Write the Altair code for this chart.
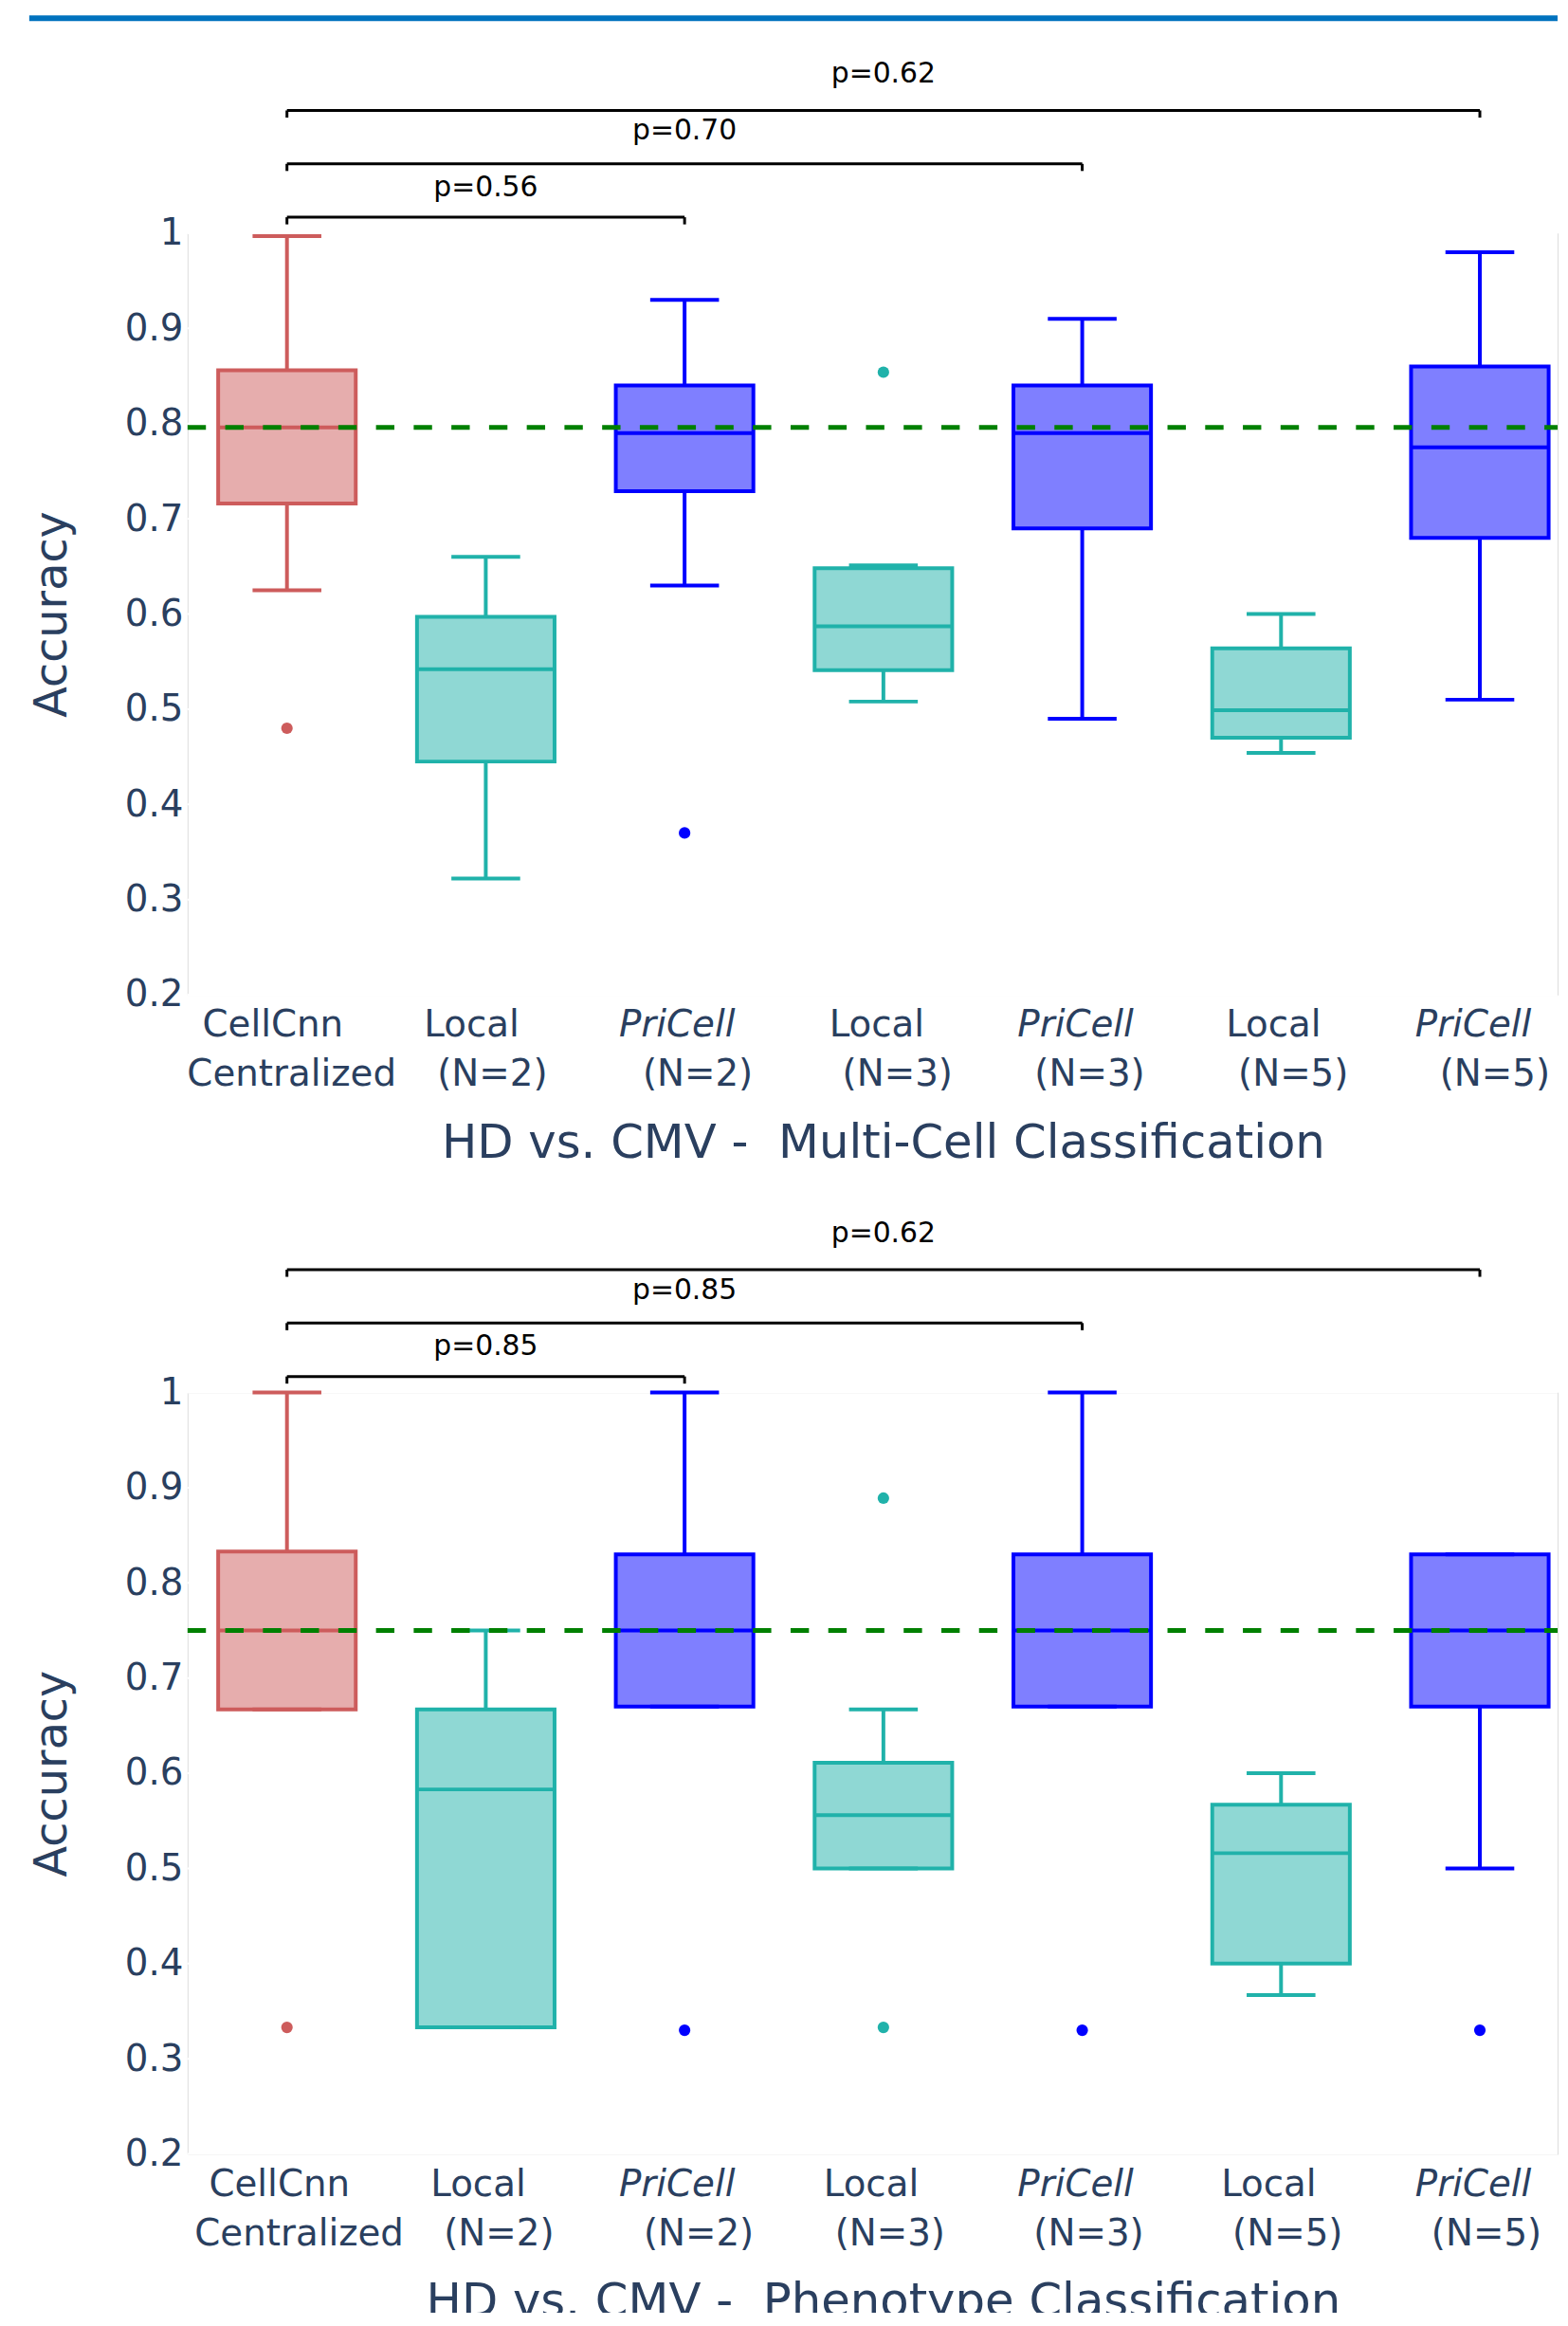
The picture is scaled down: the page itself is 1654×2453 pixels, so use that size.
import altair as alt
import pandas as pd

# ---------------- data ----------------
cat_ids = ["c0", "c1", "c2", "c3", "c4", "c5", "c6"]
groups = ["CellCnn", "Local", "PriCell", "Local", "PriCell", "Local", "PriCell"]
line1 = ["CellCnn", "Local", "PriCell", "Local", "PriCell", "Local", "PriCell"]
line2 = ["Centralized", "(N=2)", "(N=2)", "(N=3)", "(N=3)", "(N=5)", "(N=5)"]
NB = "\u00a0"
titles = ["HD vs. CMV - " + NB + "Multi-Cell Classification",
          "HD vs. CMV - " + NB + "Phenotype Classification"]

# Multi-cell classification (top)
mc_low = [0.625, 0.322, 0.630, 0.508, 0.490, 0.454, 0.510]
mc_q1 = [0.716, 0.445, 0.729, 0.541, 0.690, 0.470, 0.680]
mc_med = [0.796, 0.542, 0.790, 0.587, 0.790, 0.499, 0.775]
mc_q3 = [0.856, 0.597, 0.840, 0.648, 0.840, 0.564, 0.860]
mc_high = [0.997, 0.660, 0.930, 0.651, 0.910, 0.600, 0.980]
mc_out_cat = ["c0", "c2", "c3"]
mc_out_val = [0.480, 0.370, 0.854]
mc_ref = 0.796
mc_p = ["p=0.56", "p=0.70", "p=0.62"]

# Phenotype classification (bottom)
ph_low = [0.667, 0.333, 0.670, 0.500, 0.670, 0.367, 0.500]
ph_q1 = [0.667, 0.333, 0.670, 0.500, 0.670, 0.400, 0.670]
ph_med = [0.750, 0.583, 0.750, 0.556, 0.750, 0.516, 0.750]
ph_q3 = [0.833, 0.667, 0.830, 0.611, 0.830, 0.567, 0.830]
ph_high = [1.000, 0.750, 1.000, 0.667, 1.000, 0.600, 0.830]
ph_out_cat = ["c0", "c2", "c3", "c3", "c4", "c6"]
ph_out_val = [0.333, 0.330, 0.889, 0.333, 0.330, 0.330]
ph_ref = 0.75
ph_p = ["p=0.85", "p=0.85", "p=0.62"]

# significance brackets (shared geometry)
br_from = ["c0", "c0", "c0"]
br_to = ["c2", "c4", "c6"]
br_level = [1.0168, 1.0729, 1.129]
p_cat = ["c1", "c2", "c3"]
p_level = [1.0389, 1.0983, 1.158]

y_ticks = [0.2, 0.3, 0.4, 0.5, 0.6, 0.7, 0.8, 0.9, 1.0]

# ---------------- style ----------------
FULL_W = 1477          # full band range (plot continues past the right page edge)
W, H = 1454, 808       # visible plot area
LW = 4
FONT = "DejaVu Sans"
TXT = "#2a3f5f"
# horizontal nudges of the two label lines (pixels), per category
TOP_DX1 = [-15, -15, -8, -7, -7, -8, -7]
TOP_DX2 = [5, 7, 14, 15, 8, 13, 16]
BOT_DX1 = [-8, -8, -8, -13, -7, -13, -7]
BOT_DX2 = [13, 14, 15, 7, 7, 7, 7]

cscale = alt.Scale(domain=["CellCnn", "Local", "PriCell"],
                   range=["#CD5C5C", "#20B2AA", "#0000FF"])
xscale = alt.Scale(type="band", domain=cat_ids, paddingInner=0, paddingOuter=0,
                   range=[0, FULL_W])
yscale = alt.Scale(domain=[0.2, 1.0], nice=False, zero=False)
yaxis = alt.Axis(values=y_ticks,
                 labelExpr="datum.value == 1 ? '1' : format(datum.value, '.1f')",
                 labelFont=FONT, labelFontSize=39, labelColor=TXT, labelPadding=5,
                 ticks=False, tickSize=0, domain=False, grid=False,
                 titleFont=FONT, titleFontSize=48, titleColor=TXT,
                 titleFontWeight="normal", titleX=-129, titleY=H / 2,
                 titleAngle=-90, titleBaseline="alphabetic", titleAlign="center")


def X(field):
    return alt.X(field, type="nominal", scale=xscale, axis=None)


def Y(field):
    return alt.Y(field, type="quantitative", scale=yscale, axis=yaxis, title="Accuracy")


def label_layers(labs, dx1, dx2):
    out = []
    tx = dict(font=FONT, fontSize=39, color=TXT, baseline="alphabetic", align="center")
    combos = {}
    for c, g, d in zip(cat_ids, groups, dx1):
        combos.setdefault((d, g == "PriCell"), []).append(c)
    for (d, ital), cats in combos.items():
        kw = dict(tx, dx=d)
        if ital:
            kw["fontStyle"] = "italic"
        out.append(alt.Chart(labs).transform_filter(
            alt.FieldOneOfPredicate(field="cat", oneOf=cats)).mark_text(**kw).encode(
            x=X("cat"), y=alt.value(H + 44.7), text="l1:N"))
    combos2 = {}
    for c, d in zip(cat_ids, dx2):
        combos2.setdefault(d, []).append(c)
    for d, cats in combos2.items():
        out.append(alt.Chart(labs).transform_filter(
            alt.FieldOneOfPredicate(field="cat", oneOf=cats)).mark_text(dx=d, **tx).encode(
            x=X("cat"), y=alt.value(H + 96.7), text="l2:N"))
    return out


def panel(low, q1, med, q3, high, out_cat, out_val, ref, ptxt, title, dx1, dx2, decor):
    box = pd.DataFrame({"cat": cat_ids, "grp": groups, "low": low, "q1": q1,
                        "med": med, "q3": q3, "high": high})
    outs = pd.DataFrame({"cat": out_cat,
                         "grp": [groups[cat_ids.index(c)] for c in out_cat],
                         "val": out_val})
    refdf = pd.DataFrame({"ref": [ref]})
    grid = pd.DataFrame({"g": y_ticks})
    brk = pd.DataFrame({"a": br_from, "b": br_to, "level": br_level})
    ends = pd.DataFrame({"cat": br_from + br_to, "level": br_level + br_level})
    pdf = pd.DataFrame({"cat": p_cat, "level": p_level, "txt": ptxt})
    labs = pd.DataFrame({"cat": cat_ids, "grp": groups, "l1": line1, "l2": line2})
    tdf = pd.DataFrame({"t": [title]})

    col = dict(scale=cscale, legend=None)
    base = alt.Chart(box)
    layers = []

    # horizontal grid lines (limited to the visible plot width)
    layers.append(alt.Chart(grid).mark_rule(color="white", strokeWidth=2).encode(
        y=Y("g"), x=alt.value(0), x2=alt.value(W)))

    # brackets
    layers.append(alt.Chart(brk).mark_rule(color="black", strokeWidth=3).encode(
        x=X("a"), x2="b", y=Y("level")))
    layers.append(alt.Chart(ends).transform_calculate(lo="datum.level - 0.0075")
                  .mark_rule(color="black", strokeWidth=3).encode(
        x=X("cat"), y=Y("level"), y2="lo:Q"))
    layers.append(alt.Chart(pdf).mark_text(font=FONT, fontSize=30, color="black",
                                           baseline="alphabetic", align="center").encode(
        x=X("cat"), y=Y("level"), text="txt:N"))

    # whiskers
    layers.append(base.mark_rule(strokeWidth=LW).encode(
        x=X("cat"), y=Y("low"), y2="q1", color=alt.Color("grp:N", **col)))
    layers.append(base.mark_rule(strokeWidth=LW).encode(
        x=X("cat"), y=Y("q3"), y2="high", color=alt.Color("grp:N", **col)))
    # boxes
    layers.append(base.mark_bar(size=146, fillOpacity=0.5, strokeWidth=LW).encode(
        x=X("cat"), y=Y("q1"), y2="q3",
        fill=alt.Fill("grp:N", **col), stroke=alt.Stroke("grp:N", **col)))
    # medians
    layers.append(base.mark_tick(size=146, thickness=LW, opacity=1).encode(
        x=X("cat"), y=Y("med"), color=alt.Color("grp:N", **col)))
    # caps
    layers.append(base.mark_tick(size=73, thickness=LW, opacity=1).encode(
        x=X("cat"), y=Y("low"), color=alt.Color("grp:N", **col)))
    layers.append(base.mark_tick(size=73, thickness=LW, opacity=1).encode(
        x=X("cat"), y=Y("high"), color=alt.Color("grp:N", **col)))
    # outliers
    layers.append(alt.Chart(outs).mark_circle(size=150, opacity=1).encode(
        x=X("cat"), y=Y("val"), color=alt.Color("grp:N", **col)))
    # reference line
    layers.append(alt.Chart(refdf).mark_rule(color="#008000", strokeWidth=5,
                                             strokeDash=[19.5, 20.5]).encode(
        y=Y("ref"), x=alt.value(0), x2=alt.value(W)))

    # category labels (two lines, PriCell italic)
    layers += label_layers(labs, dx1, dx2)

    # x title
    layers.append(alt.Chart(tdf).mark_text(font=FONT, fontSize=50, color=TXT,
                                           baseline="alphabetic", align="center").encode(
        x=alt.value(FULL_W / 2), y=alt.value(H + 172.7), text="t:N"))

    if decor:
        layers.append(alt.Chart(pd.DataFrame({"d": [0]})).mark_rect(color="#0072BE").encode(
            x=alt.value(-168), x2=alt.value(W), y=alt.value(-231), y2=alt.value(-225)))

    return alt.layer(*layers).properties(width=W, height=H)


top = panel(mc_low, mc_q1, mc_med, mc_q3, mc_high, mc_out_cat, mc_out_val, mc_ref, mc_p,
            titles[0], TOP_DX1, TOP_DX2, True)
bottom = panel(ph_low, ph_q1, ph_med, ph_q3, ph_high, ph_out_cat, ph_out_val, ph_ref, ph_p,
               titles[1], BOT_DX1, BOT_DX2, False)

chart = alt.vconcat(top, bottom, spacing=422, bounds="flush").properties(
    padding={"left": 22, "top": 0, "right": 0, "bottom": -23}
).configure_view(fill="#EFF6FD", stroke="transparent").configure(font=FONT)

chart.save("out.html", embed_options={"renderer": "svg", "actions": False})
